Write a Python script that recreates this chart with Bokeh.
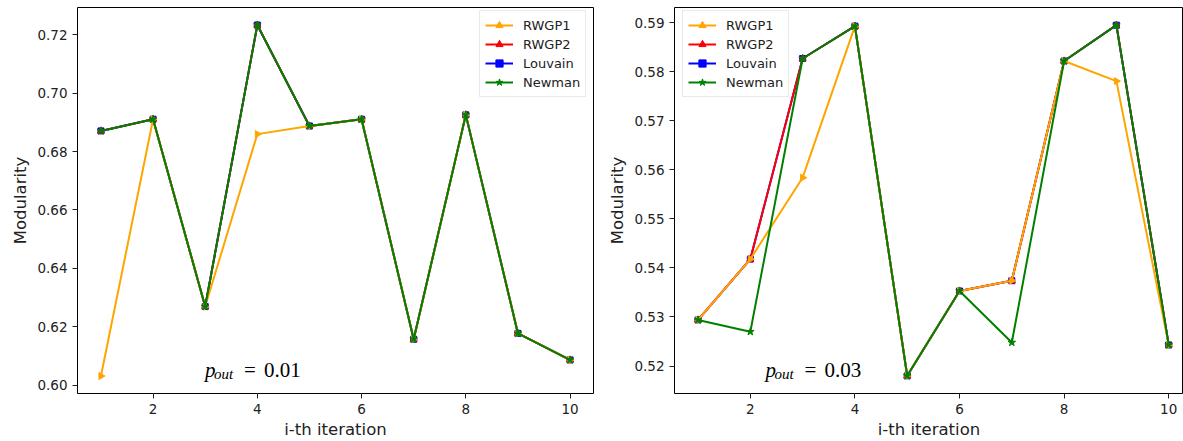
import numpy as np
from bokeh.plotting import figure
from bokeh.layouts import row
from bokeh.models import Label, Range1d, FixedTicker, NumeralTickFormatter, Legend, LegendItem
from bokeh.embed import file_html
from bokeh.resources import INLINE

# ---------------- data ----------------
iterations = [1, 2, 3, 4, 5, 6, 7, 8, 9, 10]
x_ticks = [2, 4, 6, 8, 10]

# p_out = 0.01
left_rwgp1 = [0.6031, 0.6911, 0.6269, 0.6860, 0.6888, 0.6911, 0.6157, 0.6926, 0.6177, 0.6086]
left_rwgp2 = [0.6871, 0.6911, 0.6269, 0.7234, 0.6888, 0.6911, 0.6157, 0.6926, 0.6177, 0.6086]
left_louvain = [0.6871, 0.6911, 0.6269, 0.7234, 0.6888, 0.6911, 0.6157, 0.6926, 0.6177, 0.6086]
left_newman = [0.6871, 0.6911, 0.6269, 0.7234, 0.6888, 0.6911, 0.6157, 0.6926, 0.6177, 0.6086]
left_y_ticks = [0.60, 0.62, 0.64, 0.66, 0.68, 0.70, 0.72]

# p_out = 0.03
right_rwgp1 = [0.5294, 0.5418, 0.5584, 0.5893, 0.5180, 0.5353, 0.5374, 0.5822, 0.5781, 0.5243]
right_rwgp2 = [0.5294, 0.5418, 0.5827, 0.5893, 0.5180, 0.5353, 0.5374, 0.5822, 0.5895, 0.5243]
right_louvain = [0.5294, 0.5418, 0.5827, 0.5893, 0.5180, 0.5353, 0.5374, 0.5822, 0.5895, 0.5243]
right_newman = [0.5294, 0.5270, 0.5827, 0.5893, 0.5180, 0.5353, 0.5248, 0.5822, 0.5895, 0.5243]
right_y_ticks = [0.52, 0.53, 0.54, 0.55, 0.56, 0.57, 0.58, 0.59]

series_names = ["RWGP1", "RWGP2", "Louvain", "Newman"]
x_label = "i-th iteration"
y_label = "Modularity"

# ---------------- styling ----------------
COLORS = ["orange", "red", "blue", "green"]
MARKERS = [("triangle", -np.pi / 2, 7), ("triangle", 0.0, 7), ("square", 0.0, 6), ("star", 0.0, 8)]
DRAW_ORDER = [2, 1, 0, 3]          # Louvain under RWGP2 under RWGP1, Newman on top
TICK_FONT = "13.5px"
LABEL_FONT = "16.5px"
FONT = "DejaVu Sans"
TEXT_COLOR = "#222222"


def make_panel(series, y_ticks, x_range, y_range, width, border_left, border_right,
               legend_xy, ann_x, ann_y, ann_value):
    p = figure(width=width, height=441, output_backend="svg", toolbar_location=None,
               x_range=Range1d(*x_range), y_range=Range1d(*y_range),
               min_border_left=border_left, min_border_right=border_right,
               min_border_top=7, min_border_bottom=48)
    renderers = {}
    for i in DRAW_ORDER:
        mk, ang, sz = MARKERS[i]
        ln = p.line(iterations, series[i], line_color=COLORS[i], line_width=2)
        sc = p.scatter(iterations, series[i], marker=mk, angle=ang, size=sz,
                       fill_color=COLORS[i], line_color=COLORS[i])
        renderers[i] = [ln, sc]

    p.xgrid.visible = False
    p.ygrid.visible = False
    p.outline_line_color = "black"
    p.outline_line_width = 1
    p.background_fill_color = "white"
    p.border_fill_color = "white"

    for ax in (p.xaxis[0], p.yaxis[0]):
        ax.axis_line_color = None
        ax.major_tick_line_color = TEXT_COLOR
        ax.major_tick_out = 5
        ax.major_tick_in = 0
        ax.minor_tick_line_color = None
        ax.major_label_text_font = FONT
        ax.major_label_text_font_size = TICK_FONT
        ax.major_label_text_color = TEXT_COLOR
        ax.axis_label_text_font = FONT
        ax.axis_label_text_font_size = LABEL_FONT
        ax.axis_label_text_font_style = "normal"
        ax.axis_label_text_color = TEXT_COLOR

    p.xaxis[0].ticker = FixedTicker(ticks=x_ticks)
    p.xaxis[0].major_label_standoff = 5
    p.xaxis[0].axis_label = x_label
    p.xaxis[0].axis_label_standoff = 3
    p.yaxis[0].ticker = FixedTicker(ticks=y_ticks)
    p.yaxis[0].formatter = NumeralTickFormatter(format="0.00")
    p.yaxis[0].major_label_standoff = 5
    p.yaxis[0].axis_label = y_label
    p.yaxis[0].axis_label_standoff = 4

    items = [LegendItem(label=series_names[i], renderers=renderers[i]) for i in range(4)]
    lg = Legend(items=items, location=legend_xy, margin=0)
    lg.border_line_color = "#d5d5d5"
    lg.border_line_width = 1
    lg.background_fill_alpha = 0.85
    lg.label_text_font = FONT
    lg.label_text_font_size = "13px"
    lg.label_text_color = TEXT_COLOR
    lg.glyph_width = 28
    lg.glyph_height = 18
    lg.label_height = 18
    lg.spacing = 1
    lg.padding = 5
    lg.label_standoff = 10
    p.add_layout(lg, "center")

    serif = "Liberation Serif"
    p.add_layout(Label(x=ann_x, y=ann_y, text="p", text_font=serif, text_font_style="italic",
                       text_font_size="21px", text_baseline="alphabetic", text_color="black"))
    p.add_layout(Label(x=ann_x, y=ann_y, x_offset=9, y_offset=-4, text="out", text_font=serif,
                       text_font_style="italic", text_font_size="15px",
                       text_baseline="alphabetic", text_color="black"))
    p.add_layout(Label(x=ann_x, y=ann_y, x_offset=39, text="=", text_font=serif,
                       text_font_size="21px", text_baseline="alphabetic", text_color="black"))
    p.add_layout(Label(x=ann_x, y=ann_y, x_offset=59, text=ann_value, text_font=serif,
                       text_font_size="21px", text_baseline="alphabetic", text_color="black"))
    return p


left = make_panel([left_rwgp1, left_rwgp2, left_louvain, left_newman], left_y_ticks,
                  (0.55, 10.45), (0.5971, 0.7294), 600, 77, 7, (402, 296),
                  2.995, 0.6052, "0.01")
# the right panel is cut off at the picture's right edge in the reference
right = make_panel([right_rwgp1, right_rwgp2, right_louvain, right_newman], right_y_ticks,
                   (0.55, 10.283), (0.5144, 0.5931), 583, 74, 0, (8, 296),
                   2.29, 0.5192, "0.03")

layout = row(left, right)
open("out.html", "w").write(file_html(layout, INLINE))
